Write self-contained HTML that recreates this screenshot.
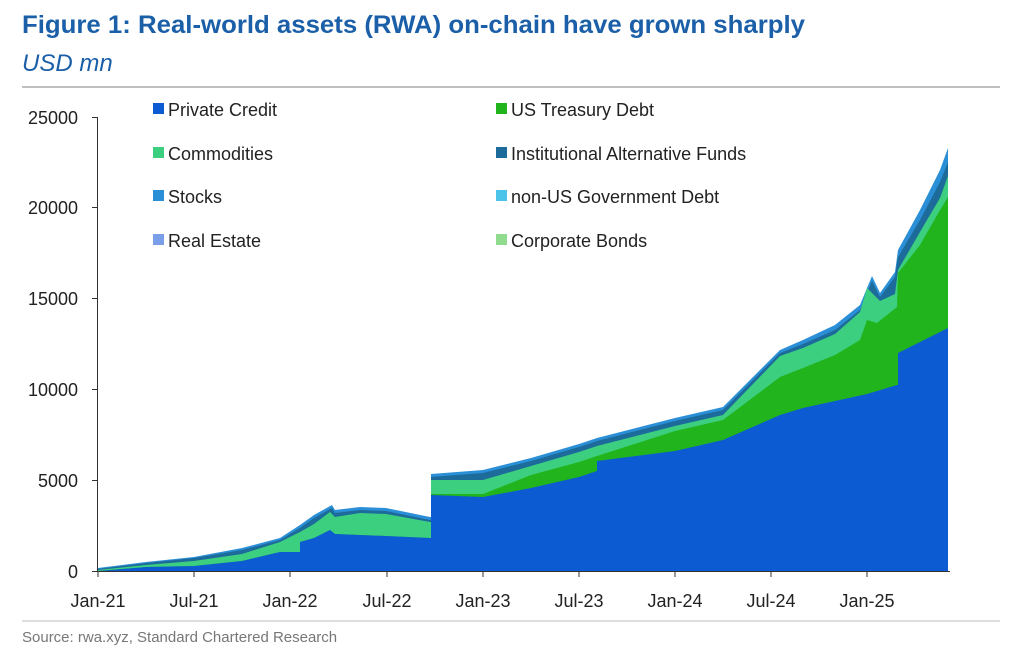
<!DOCTYPE html>
<html><head><meta charset="utf-8"><style>
body{margin:0;background:#fff;width:1023px;height:660px;overflow:hidden;font-family:"Liberation Sans",Arial,sans-serif}
</style></head><body>
<svg width="1023" height="660" viewBox="0 0 1023 660" xmlns="http://www.w3.org/2000/svg" font-family="Liberation Sans, Arial, sans-serif">
<text x="22" y="33" font-size="25" font-weight="bold" fill="#1a5fa8" textLength="783" lengthAdjust="spacingAndGlyphs">Figure 1: Real-world assets (RWA) on-chain have grown sharply</text>
<text x="22" y="71" font-size="24" font-style="italic" fill="#1a5fa8">USD mn</text>
<line x1="22" y1="87" x2="1000" y2="87" stroke="#999" stroke-width="1.2"/>
<polygon fill="#2a8fd6" points="98,571 98,568 146,562 194,557 242,548 280,538 300,525 314,515 332,505 335,510 360,507 386,508 430,517 431,517 431,474 483,470 531,458 579,444 597,438 675,418 723,407 780,350 803,340 835,325 860,305 872,276 880,293 895,272 898,250 920,210 940,170 948,148 948,571"/>
<polygon fill="#1d6b9a" points="98,571 98,569 146,563 194,558 242,550 280,540 300,528 314,518 332,508 335,513 360,510 386,511 430,520 431,520 431,477 483,473 531,461 579,447 597,441 675,421 723,410 780,353 803,344 835,330 860,310 872,281 880,297 895,277 898,257 920,220 940,182 948,162 948,571"/>
<polygon fill="#3ccf80" points="98,571 98,570 146,565 194,561 242,554 280,542 300,532 314,524 330,512 335,517 360,513 386,514 430,522 431,522 431,480 483,480 531,466 579,452 597,446 675,426 723,415 780,356 803,348 835,334 860,312 867,288 880,301 895,294 898,270 920,232 940,198 948,176 948,571"/>
<polygon fill="#22b41c" points="98,571 146,567 194,566 242,561 280,552 300,552 300,542 314,538 330,530 335,534 360,535 386,536 430,538 431,538 431,494 483,494 531,475 579,462 597,456 675,431 723,420 780,377 803,368 835,355 860,340 867,320 877,323 897,307 898,273 920,245 940,210 948,197 948,571"/>
<polygon fill="#0d5bd2" points="98,571 146,567 194,566 242,561 280,552 300,552 300,542 314,538 330,530 335,534 360,535 386,536 430,538 431,538 431,495 483,497 531,488 579,477 597,471 597,461 675,451 723,440 780,415 803,408 835,401 867,394 897,385 898,385 898,353 948,328 948,571"/>
<g stroke="#333" stroke-width="1" fill="none">
<line x1="97.5" y1="117" x2="97.5" y2="571"/>
<line x1="97" y1="571.5" x2="950" y2="571.5"/>
<line x1="92" y1="117.5" x2="97" y2="117.5"/><line x1="92" y1="207.5" x2="97" y2="207.5"/><line x1="92" y1="298.5" x2="97" y2="298.5"/><line x1="92" y1="389.5" x2="97" y2="389.5"/><line x1="92" y1="480.5" x2="97" y2="480.5"/><line x1="92" y1="571.5" x2="97" y2="571.5"/>
<line x1="98" y1="571" x2="98" y2="577"/><line x1="194" y1="571" x2="194" y2="577"/><line x1="290" y1="571" x2="290" y2="577"/><line x1="387" y1="571" x2="387" y2="577"/><line x1="483" y1="571" x2="483" y2="577"/><line x1="579" y1="571" x2="579" y2="577"/><line x1="675" y1="571" x2="675" y2="577"/><line x1="771" y1="571" x2="771" y2="577"/><line x1="867" y1="571" x2="867" y2="577"/>
</g>
<g font-size="18" fill="#222" text-anchor="end">
<text x="78" y="124">25000</text><text x="78" y="214">20000</text><text x="78" y="305">15000</text><text x="78" y="396">10000</text><text x="78" y="487">5000</text><text x="78" y="578">0</text>
</g>
<g font-size="18" fill="#222" text-anchor="middle">
<text x="98" y="607">Jan-21</text><text x="194" y="607">Jul-21</text><text x="290" y="607">Jan-22</text><text x="387" y="607">Jul-22</text><text x="483" y="607">Jan-23</text><text x="579" y="607">Jul-23</text><text x="675" y="607">Jan-24</text><text x="771" y="607">Jul-24</text><text x="867" y="607">Jan-25</text>
</g>
<g font-size="18" fill="#222">
<rect x="153" y="103" width="11" height="11" fill="#0d5bd2"/><text x="168" y="116">Private Credit</text>
<rect x="153" y="147" width="11" height="11" fill="#3ccf80"/><text x="168" y="160">Commodities</text>
<rect x="153" y="190" width="11" height="11" fill="#2a8fd6"/><text x="168" y="203">Stocks</text>
<rect x="153" y="234" width="11" height="11" fill="#7a9fe8"/><text x="168" y="247">Real Estate</text>
<rect x="496" y="103" width="11" height="11" fill="#22b41c"/><text x="511" y="116">US Treasury Debt</text>
<rect x="496" y="147" width="11" height="11" fill="#1d6b9a"/><text x="511" y="160">Institutional Alternative Funds</text>
<rect x="496" y="190" width="11" height="11" fill="#4cc3e8"/><text x="511" y="203">non-US Government Debt</text>
<rect x="496" y="234" width="11" height="11" fill="#8fdc8f"/><text x="511" y="247">Corporate Bonds</text>
</g>
<line x1="22" y1="621" x2="1000" y2="621" stroke="#bbb" stroke-width="1"/>
<text x="22" y="642" font-size="15" fill="#777">Source: rwa.xyz, Standard Chartered Research</text>
</svg>
</body></html>
